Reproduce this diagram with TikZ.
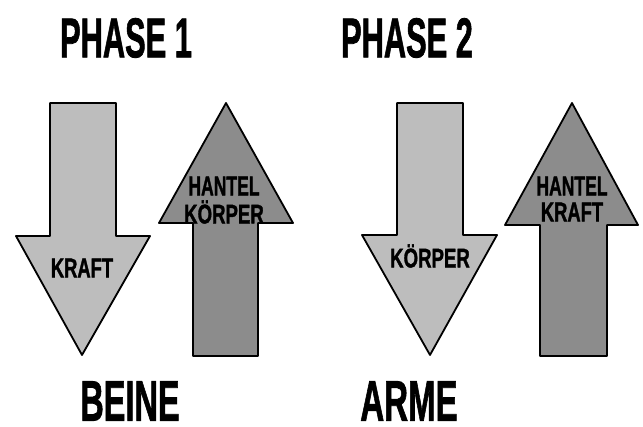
\documentclass[tikz,border=0pt]{standalone}
\usepackage{fontspec}
\setmainfont{Liberation Sans}
\newfontfamily\heavy[FakeBold=1.6]{Liberation Sans Bold}
\definecolor{lightarrow}{RGB}{189,189,189}
\definecolor{darkarrow}{RGB}{140,140,140}
\tikzset{
  arrowshape/.style={draw=black, line width=1.8pt, line join=round},
  lightfill/.style={arrowshape, fill=lightarrow},
  darkfill/.style={arrowshape, fill=darkarrow},
  bigtitle/.style={inner sep=0pt, font=\fontsize{56}{56}\selectfont\heavy},
  bottomtitle/.style={inner sep=0pt, font=\fontsize{57}{57}\selectfont\heavy},
  innerlabel/.style={inner sep=0pt, align=center, font=\fontsize{27}{25}\selectfont\heavy}
}
\begin{document}
\begin{tikzpicture}[x=1pt,y=-1pt]
\useasboundingbox (0,0) rectangle (643,427);
% Phase 1 down arrow
\draw[lightfill] (50,103) -- (116,103) -- (116,236) -- (150,236) -- (82,355) -- (16,236) -- (50,236) -- cycle;
% Phase 1 up arrow
\draw[darkfill] (226,103) -- (293,223) -- (258,223) -- (258,356) -- (193,356) -- (193,223) -- (159,223) -- cycle;
% Phase 2 down arrow
\draw[lightfill] (397,103) -- (463,103) -- (463,235) -- (497,235) -- (430,355) -- (362,235) -- (397,235) -- cycle;
% Phase 2 up arrow
\draw[darkfill] (572,103) -- (638,225) -- (607,225) -- (607,356) -- (540,356) -- (540,225) -- (505,225) -- cycle;
% titles
\node[bigtitle] (p1) at (126,38) {\scalebox{0.55}[1]{PHASE 1}};
\node[bigtitle] (p2) at (407,38) {\scalebox{0.55}[1]{PHASE 2}};
\node[bottomtitle] (beine) at (130,401) {\scalebox{0.57}[1]{BEINE}};
\node[bottomtitle] (arme) at (409,401) {\scalebox{0.58}[1]{ARME}};
% labels
\node[innerlabel] (kraft1) at (82,268) {\scalebox{0.68}[1]{KRAFT}};
\node[innerlabel] (hk1a) at (224,186) {\scalebox{0.65}[1]{HANTEL}};
\node[innerlabel] (hk1b) at (224,212) {\scalebox{0.69}[1]{KÖRPER}};
\node[innerlabel] (koerper2) at (430,256) {\scalebox{0.69}[1]{KÖRPER}};
\node[innerlabel] (hk2a) at (572,186) {\scalebox{0.65}[1]{HANTEL}};
\node[innerlabel] (hk2b) at (572,212) {\scalebox{0.68}[1]{KRAFT}};
\end{tikzpicture}
\end{document}
